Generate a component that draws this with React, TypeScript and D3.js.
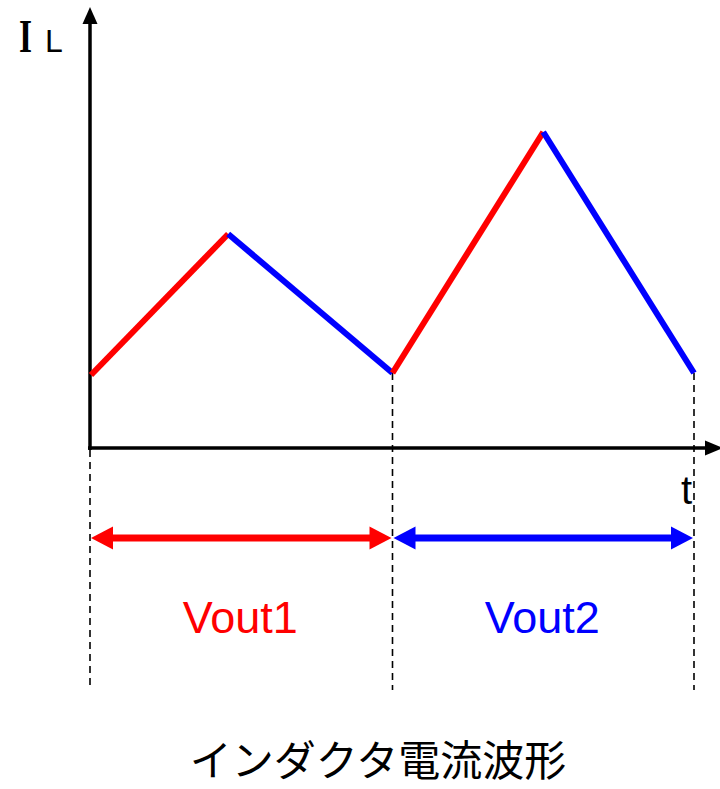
import React from "react";
import * as d3 from "d3";

// Waveform vertices: time (in units of one Vout period) and inductor current (arbitrary units)
const times = [0, 0.455, 1.0, 1.5, 2.0];
const currents = [0.73, 2.14, 0.75, 3.16, 0.75];
// segment colours: rising (charging) red, falling blue
const segmentColors = ["#ff0000", "#0000ff", "#ff0000", "#0000ff"];
// periods
const periodLabels = ["Vout1", "Vout2"];
const periodBounds = [0, 1, 2];
const periodColors = ["#ff0000", "#0000ff"];
const title = "インダクタ電流波形";

const W = 720;
const H = 789;

export default function App() {
  const x = d3.scaleLinear().domain([0, 2]).range([91, 694]);
  const y = d3.scaleLinear().domain([0, 4.4]).range([448, 8]);
  const x0 = 90;
  const y0 = 448;
  const line = d3.line<[number, number]>().x((d) => x(d[0])).y((d) => y(d[1]));
  const arrowY = 538;
  const ah = 22; // arrow head length
  const aw = 11.5; // arrow head half-height

  return (
    <svg
      width={W}
      height={H}
      style={{ position: "absolute", left: 0, top: 0, background: "#fff" }}
    >
      {/* dashed guides */}
      {periodBounds.map((t, i) => {
        const xi = i === 0 ? x0 : x(t);
        const top = i === 0 ? y0 + 2 : y(currents[i * 2]);
        return (
          <line
            key={"d" + i}
            x1={xi}
            x2={xi}
            y1={top}
            y2={690}
            stroke="#000"
            strokeWidth={1.6}
            strokeDasharray="7,5"
          />
        );
      })}
      {/* axes */}
      <line x1={x0} x2={x0} y1={y0 + 2} y2={20} stroke="#000" strokeWidth={3.5} />
      <path d={`M${x0},7 L${x0 - 7.5},24 L${x0 + 7.5},24 Z`} fill="#000" />
      <line x1={x0 - 2} x2={708} y1={y0} y2={y0} stroke="#000" strokeWidth={3.5} />
      <path d={`M723,${y0} L705,${y0 - 7.5} L705,${y0 + 7.5} Z`} fill="#000" />

      {/* waveform */}
      {segmentColors.map((c, i) => (
        <path
          key={"s" + i}
          d={
            line([
              [times[i], currents[i]],
              [times[i + 1], currents[i + 1]],
            ]) as string
          }
          stroke={c}
          strokeWidth={6}
          fill="none"
          strokeLinecap="butt"
        />
      ))}

      {/* period arrows */}
      {periodLabels.map((lab, i) => {
        const xa = i === 0 ? x0 + 1 : x(periodBounds[i]) + 1;
        const xb = x(periodBounds[i + 1]) - 1;
        const c = periodColors[i];
        return (
          <g key={"p" + i}>
            <line x1={xa + ah - 2} x2={xb - ah + 2} y1={arrowY} y2={arrowY} stroke={c} strokeWidth={7} />
            <path d={`M${xa},${arrowY} L${xa + ah},${arrowY - aw} L${xa + ah},${arrowY + aw} Z`} fill={c} />
            <path d={`M${xb},${arrowY} L${xb - ah},${arrowY - aw} L${xb - ah},${arrowY + aw} Z`} fill={c} />
            <text
              x={(xa + xb) / 2 - 1}
              y={633}
              textAnchor="middle"
              fill={c}
              fontFamily="Liberation Sans, Arial, sans-serif"
              fontSize={45}
            >
              {lab}
            </text>
          </g>
        );
      })}

      {/* axis labels */}
      <text x={19} y={52} fontFamily="Liberation Serif, serif" fontWeight="bold" fontSize={46} textLength={13} lengthAdjust="spacingAndGlyphs">
        I
      </text>
      <text x={45} y={52} fontFamily="Liberation Sans, Arial, sans-serif" fontSize={32}>
        L
      </text>
      <text x={681} y={504} fontFamily="Liberation Sans, Arial, sans-serif" fontSize={40}>
        t
      </text>

      {/* title */}
      <text
        x={378}
        y={776}
        textAnchor="middle"
        fontFamily="Noto Sans CJK JP, sans-serif"
        fontSize={42}
        fill="#000"
      >
        {title}
      </text>
    </svg>
  );
}
